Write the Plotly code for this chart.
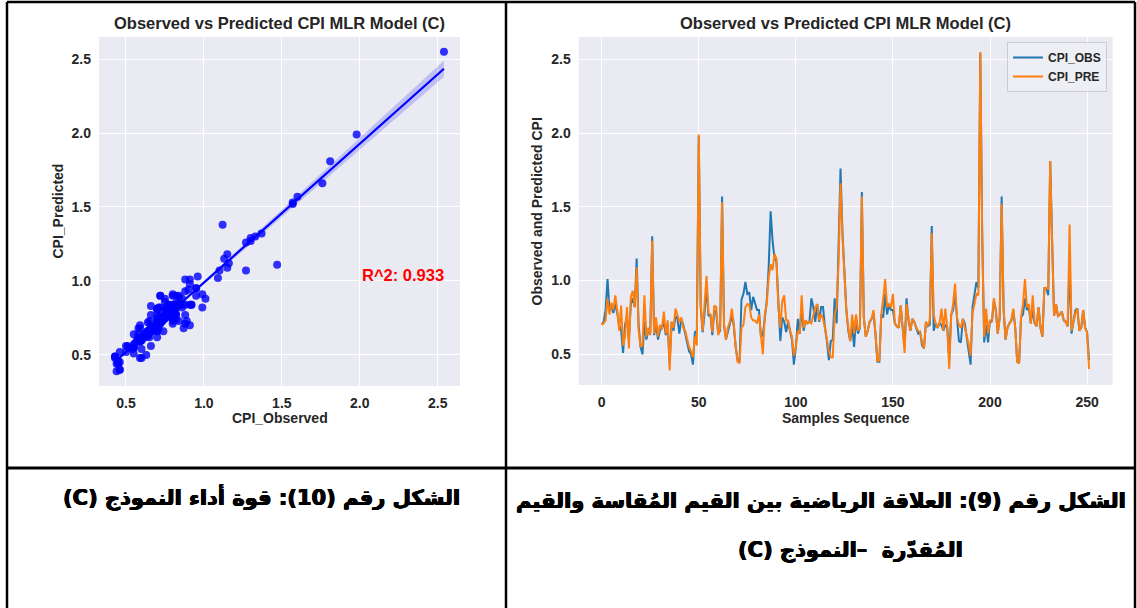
import numpy as np
import plotly.graph_objects as go

# ---------------- data ----------------
cpi_obs = [
    0.70, 0.72, 0.80, 1.01, 0.80, 0.82, 0.78, 0.84, 0.78, 0.70,
    0.66, 0.51, 0.70, 0.76, 0.60, 0.84, 0.88, 0.82, 1.15, 0.70,
    0.55, 0.50, 0.72, 0.60, 0.66, 0.64, 1.30, 0.63, 0.70, 0.60,
    0.66, 0.68, 0.72, 0.63, 0.70, 0.44, 0.72, 0.66, 0.76, 0.74,
    0.64, 0.74, 0.70, 0.64, 0.57, 0.52, 0.50, 0.43, 0.65, 0.66,
    1.98, 0.82, 0.65, 0.78, 0.96, 0.76, 0.77, 0.63, 0.80, 0.78,
    0.64, 0.66, 1.57, 0.70, 0.60, 0.66, 0.70, 0.76, 0.70, 0.55,
    0.46, 0.45, 0.87, 0.91, 0.99, 0.91, 0.92, 0.80, 0.89, 0.84,
    0.80, 0.80, 0.62, 0.63, 0.77, 0.86, 1.09, 1.47, 1.27, 1.15,
    1.13, 0.86, 0.59, 0.75, 0.72, 0.65, 0.72, 0.66, 0.60, 0.43,
    0.55, 0.74, 0.64, 0.82, 0.66, 0.73, 0.71, 0.72, 0.88, 0.82,
    0.72, 0.84, 0.72, 0.82, 0.82, 0.68, 0.59, 0.46, 0.59, 0.60,
    0.88, 0.71, 1.16, 1.76, 1.33, 1.10, 0.80, 0.66, 0.59, 0.70,
    0.55, 0.75, 0.64, 0.68, 1.60, 0.75, 0.62, 0.66, 0.72, 0.74,
    0.78, 0.64, 0.45, 0.45, 0.77, 0.75, 0.91, 0.77, 0.84, 0.80,
    0.80, 0.71, 0.69, 0.68, 0.83, 0.68, 0.55, 0.88, 0.73, 0.66,
    0.74, 0.72, 0.68, 0.64, 0.65, 0.56, 0.54, 0.72, 0.69, 0.70,
    1.37, 0.66, 0.71, 0.68, 0.71, 0.70, 0.66, 0.70, 0.68, 0.46,
    0.77, 0.80, 0.91, 0.75, 0.59, 0.58, 0.74, 0.71, 0.62, 0.55,
    0.43, 0.82, 0.92, 0.99, 0.95, 2.54, 1.30, 0.58, 0.70, 0.58,
    0.73, 0.72, 0.86, 0.80, 0.64, 0.75, 1.57, 0.80, 0.60, 0.68,
    0.71, 0.73, 0.80, 0.68, 0.45, 0.44, 0.75, 0.77, 0.88, 0.80,
    0.82, 0.71, 0.80, 0.71, 0.69, 0.82, 0.68, 0.62, 0.95, 0.95,
    0.90, 1.81, 1.27, 0.76, 0.84, 0.76, 0.77, 0.79, 0.73, 0.72,
    0.69, 1.12, 0.64, 0.73, 0.80, 0.81, 0.66, 0.68, 0.80, 0.68,
    0.65, 0.46,
]
cpi_pre = [
    0.70, 0.71, 0.73, 0.88, 0.77, 0.85, 0.80, 0.90, 0.80, 0.66,
    0.83, 0.56, 0.62, 0.82, 0.54, 0.89, 0.93, 0.82, 1.09, 0.66,
    0.55, 0.56, 0.90, 0.62, 0.68, 0.63, 1.27, 0.64, 0.75, 0.62,
    0.70, 0.67, 0.79, 0.64, 0.73, 0.39, 0.72, 0.68, 0.81, 0.76,
    0.72, 0.75, 0.68, 0.66, 0.60, 0.55, 0.52, 0.48, 0.62, 0.56,
    1.99, 0.84, 0.66, 0.84, 1.03, 0.78, 0.77, 0.65, 0.83, 0.82,
    0.63, 0.68, 1.53, 0.70, 0.60, 0.68, 0.72, 0.81, 0.71, 0.55,
    0.45, 0.44, 0.68, 0.70, 0.82, 0.84, 0.84, 0.75, 0.73, 0.73,
    0.71, 0.77, 0.64, 0.50, 0.77, 0.84, 1.02, 1.11, 1.07, 1.18,
    1.15, 0.82, 0.68, 0.86, 0.90, 0.73, 0.73, 0.66, 0.62, 0.49,
    0.55, 0.66, 0.64, 0.90, 0.68, 0.73, 0.71, 0.72, 0.71, 0.77,
    0.82, 0.84, 0.73, 0.77, 0.74, 0.68, 0.59, 0.52, 0.48, 0.48,
    0.77, 0.82, 1.12, 1.66, 1.30, 1.07, 0.80, 0.68, 0.59, 0.77,
    0.64, 0.77, 0.66, 0.68, 1.57, 0.75, 0.62, 0.66, 0.72, 0.74,
    0.80, 0.64, 0.45, 0.46, 0.77, 0.88, 1.01, 0.82, 0.84, 0.82,
    0.91, 0.71, 0.69, 0.68, 0.83, 0.68, 0.51, 0.84, 0.73, 0.66,
    0.74, 0.72, 0.68, 0.66, 0.65, 0.58, 0.54, 0.72, 0.69, 0.73,
    1.32, 0.77, 0.71, 0.68, 0.71, 0.81, 0.66, 0.81, 0.68, 0.40,
    0.76, 0.84, 0.98, 0.75, 0.70, 0.68, 0.74, 0.68, 0.64, 0.57,
    0.49, 0.78, 0.84, 0.91, 0.90, 2.55, 1.29, 0.62, 0.81, 0.64,
    0.73, 0.73, 0.88, 0.80, 0.64, 0.75, 1.52, 0.82, 0.60, 0.68,
    0.71, 0.73, 0.81, 0.68, 0.45, 0.44, 0.75, 0.84, 1.01, 0.82,
    0.84, 0.71, 0.90, 0.71, 0.69, 0.82, 0.68, 0.62, 0.95, 0.95,
    0.94, 1.81, 1.26, 0.76, 0.84, 0.76, 0.77, 0.79, 0.73, 0.72,
    0.69, 1.38, 0.66, 0.73, 0.78, 0.81, 0.66, 0.68, 0.80, 0.68,
    0.65, 0.40,
]
r2_label = "R^2: 0.933"
chart_title = "Observed vs Predicted CPI MLR Model (C)"
caption_left = "الشكل رقم (10): قوة أداء النموذج (C)"
caption_right_1 = "الشكل رقم (9): العلاقة الرياضية بين القيم المُقاسة والقيم"
caption_right_2 = "المُقدّرة  –النموذج (C)"
left_ticks = [0.5, 1.0, 1.5, 2.0, 2.5]
right_xticks = [0, 50, 100, 150, 200, 250]

# ---------------- geometry helpers ----------------
W, H = 1137, 608
def px(x):
    return x / W
def py(y):
    return 1 - y / H

obs = np.array(cpi_obs)
pre = np.array(cpi_pre)
n = len(obs)
idx = np.arange(n)

# regression + 95% CI of the mean
slope, intercept = np.polyfit(obs, pre, 1)
xg = np.linspace(obs.min(), obs.max(), 100)
yg = slope * xg + intercept
resid = pre - (slope * obs + intercept)
s = np.sqrt(np.sum(resid ** 2) / (n - 2))
sxx = np.sum((obs - obs.mean()) ** 2)
se = s * np.sqrt(1.0 / n + (xg - obs.mean()) ** 2 / sxx)
lo, hi = yg - 1.97 * se, yg + 1.97 * se

fig = go.Figure()

# CI band
fig.add_trace(go.Scatter(x=np.concatenate([xg, xg[::-1]]), y=np.concatenate([hi, lo[::-1]]),
                         fill="toself", fillcolor="rgba(0,0,255,0.18)", line=dict(width=0),
                         hoverinfo="skip", showlegend=False, xaxis="x", yaxis="y"))
fig.add_trace(go.Scatter(x=obs, y=pre, mode="markers",
                         marker=dict(color="rgba(0,0,255,0.8)", size=8, line=dict(width=0)),
                         showlegend=False, xaxis="x", yaxis="y"))
fig.add_trace(go.Scatter(x=xg, y=yg, mode="lines", line=dict(color="rgb(0,0,255)", width=2.2),
                         showlegend=False, xaxis="x", yaxis="y"))

# line chart
fig.add_trace(go.Scatter(x=idx, y=obs, mode="lines", name="CPI_OBS",
                         line=dict(color="#1f77b4", width=2), xaxis="x2", yaxis="y2"))
fig.add_trace(go.Scatter(x=idx, y=pre, mode="lines", name="CPI_PRE",
                         line=dict(color="#ff7f0e", width=2), xaxis="x2", yaxis="y2"))

tick_font = dict(family="Liberation Sans, Arial", size=14, color="#262626", weight="bold")
ax_common = dict(showgrid=True, gridcolor="white", gridwidth=1.3, zeroline=False,
                 showline=False, ticks="", tickfont=tick_font, ticklabelstandoff=7)

fig.update_layout(
    width=W, height=H, margin=dict(l=0, r=0, t=0, b=0),
    paper_bgcolor="white", plot_bgcolor="#EAEAF2",
    showlegend=True,
    xaxis=dict(domain=[px(99), px(460)], range=[0.327, 2.643], tickvals=left_ticks,
               tickformat=".1f", anchor="y", **ax_common),
    yaxis=dict(domain=[py(386), py(37)], range=[0.29, 2.649], tickvals=left_ticks,
               tickformat=".1f", anchor="x", **ax_common),
    xaxis2=dict(domain=[px(578.8), px(1112.7)], range=[-11.8, 263.2], tickvals=right_xticks,
                anchor="y2", **ax_common),
    yaxis2=dict(domain=[py(385), py(37)], range=[0.292, 2.651], tickvals=left_ticks,
                tickformat=".1f", anchor="x2", **ax_common),
    legend=dict(x=px(1107), y=py(42), xanchor="right", yanchor="top",
                bgcolor="rgba(238,238,245,0.9)", bordercolor="#cccccc", borderwidth=1,
                font=dict(family="Liberation Sans, Arial", size=12, color="#262626", weight="bold"),
                itemwidth=30, tracegroupgap=0),
)

lbl_font = dict(family="Liberation Sans, Arial", size=14, color="#262626", weight="bold")
ttl_font = dict(family="Liberation Sans, Arial", size=16.5, color="#262626", weight="bold")
ann = []
ann.append(dict(text=chart_title, x=px(279.5), y=py(23), xref="paper", yref="paper",
                showarrow=False, font=ttl_font, xanchor="center", yanchor="middle"))
ann.append(dict(text=chart_title, x=px(845.5), y=py(23), xref="paper", yref="paper",
                showarrow=False, font=ttl_font, xanchor="center", yanchor="middle"))
ann.append(dict(text="CPI_Observed", x=px(279.5), y=py(418), xref="paper", yref="paper",
                showarrow=False, font=lbl_font, xanchor="center", yanchor="middle"))
ann.append(dict(text="CPI_Predicted", x=px(57), y=py(211.5), xref="paper", yref="paper",
                showarrow=False, font=lbl_font, textangle=-90, xanchor="center", yanchor="middle"))
ann.append(dict(text="Samples Sequence", x=px(845.5), y=py(418), xref="paper", yref="paper",
                showarrow=False, font=lbl_font, xanchor="center", yanchor="middle"))
ann.append(dict(text="Observed and Predicted CPI", x=px(536), y=py(211.5), xref="paper", yref="paper",
                showarrow=False, font=lbl_font, textangle=-90, xanchor="center", yanchor="middle"))
ann.append(dict(text=r2_label, x=2.0, y=1.04, xref="x", yref="y", showarrow=False,
                font=dict(family="Liberation Sans, Arial", size=16.5, color="red", weight="bold"),
                xanchor="left", yanchor="middle"))

ar_font = dict(family="DejaVu Sans", size=21, color="black", weight="bold",
               shadow="0.6px 0px 0px black, -0.6px 0px 0px black, 0px 0.4px 0px black")
RLE, PDF = "\u202b", "\u202c"
ann.append(dict(text=RLE + caption_left + PDF, x=px(462), y=py(497), xref="paper", yref="paper",
                showarrow=False, font=ar_font, xanchor="right", yanchor="middle"))
ann.append(dict(text=RLE + caption_right_1 + PDF, x=px(1128), y=py(501), xref="paper", yref="paper",
                showarrow=False, font=ar_font, xanchor="right", yanchor="middle"))
ann.append(dict(text=RLE + caption_right_2 + PDF, x=px(850), y=py(550), xref="paper", yref="paper",
                showarrow=False, font=ar_font, xanchor="center", yanchor="middle"))
fig.update_layout(annotations=ann)

# table borders
shapes = []
def line(x0, y0, x1, y1, w):
    shapes.append(dict(type="line", xref="paper", yref="paper", x0=px(x0), y0=py(y0),
                       x1=px(x1), y1=py(y1), line=dict(color="black", width=w)))
line(7, 2, 1135, 2, 2.5)
line(7, 2, 7, 608, 2.5)
line(506, 2, 506, 608, 2.5)
line(1135, 2, 1135, 608, 2.5)
line(7, 468, 1135, 468, 3)
fig.update_layout(shapes=shapes)

fig.write_html("out.html")
